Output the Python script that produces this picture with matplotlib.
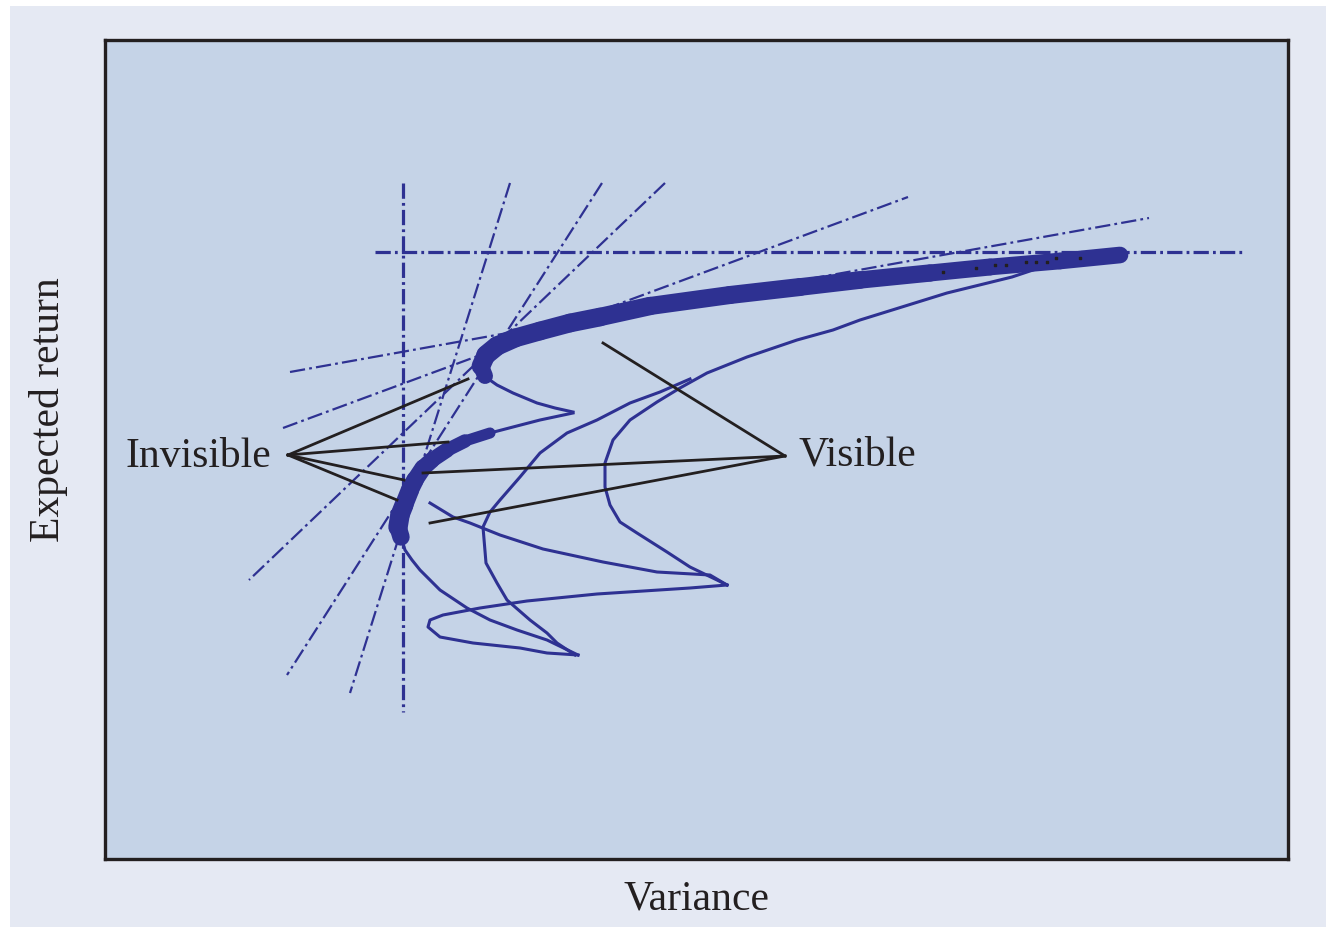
import matplotlib
matplotlib.use("Agg")
import matplotlib.pyplot as plt
from matplotlib.collections import LineCollection
from matplotlib.patches import Rectangle
import numpy as np

BLUE = "#2e3192"
INK = "#231f20"

# top frontier: thick upper branch, thin hook to the first tip
top_thick_x = [485, 481, 486, 497, 515, 540, 570, 600, 650, 730, 800, 860, 930, 990, 1060, 1120]
top_thick_y = [376, 366, 355, 346, 338, 331, 323, 317, 306, 295, 287, 280, 273, 267, 261, 255]
top_thick_w = [10, 13, 14, 14, 13.5, 13.5, 13.5, 13.5, 13, 13, 13, 12.5, 12.5, 12, 12, 12]
top_hook_x = [487, 497, 513, 537, 555, 573]
top_hook_y = [378, 385, 393, 403, 408, 412]

# middle frontier: thin from first tip, thick part, thin tail to second tip
mid_head_x = [573, 540, 513, 490]
mid_head_y = [413, 420, 427, 433]
mid_thick_x = [490, 465, 447, 432, 423, 415, 410, 404, 400, 398, 401]
mid_thick_y = [433, 441, 450, 460, 468, 480, 490, 505, 515, 527, 537]
mid_thick_w = [7, 9, 10.5, 11.5, 12, 12.5, 13, 13.5, 14, 14, 11]
mid_tail_x = [401, 405, 412, 420, 440, 467, 490, 517, 547, 578]
mid_tail_y = [537, 550, 560, 570, 590, 608, 620, 630, 640, 655]

# loop from second tip round to third tip
loop_x = [578, 547, 520, 473, 440, 428, 430, 443, 480, 527, 597, 690, 727]
loop_y = [655, 653, 648, 643, 637, 627, 620, 615, 608, 601, 594, 588, 585]

# return from third tip to the middle frontier
back_x = [727, 710, 657, 603, 543, 500, 470, 453, 430]
back_y = [585, 575, 572, 562, 549, 535, 523, 517, 503]

# visible frontier
vis_x = [727, 717, 690, 667, 637, 620, 610, 605, 605, 613, 630, 657, 680, 707, 747,
         797, 833, 860, 947, 1012, 1045]
vis_y = [585, 580, 567, 552, 533, 522, 505, 487, 463, 440, 420, 402, 388, 373, 357,
         340, 330, 320, 293, 277, 266]

# curve rising from the second tip and joining the visible frontier
rise_x = [575, 557, 547, 530, 507, 497, 486, 483, 490, 500, 520, 540, 567, 597, 630, 660, 690]
rise_y = [655, 643, 633, 620, 600, 583, 563, 527, 512, 500, 477, 453, 433, 420, 403, 392, 379]

# dash-dot lines (start x, start y, end x, end y)
guide_x0 = [403, 375, 510, 602, 665, 290, 283]
guide_y0 = [183, 252, 183, 183, 183, 372, 428]
guide_x1 = [403, 1245, 350, 287, 249, 1149, 908]
guide_y1 = [712, 252, 693, 675, 580, 218, 197]
guide_lw = [2.3, 2.3, 1.6, 1.6, 1.6, 1.6, 1.6]

# pointer lines
inv_pt = (288, 455)
inv_ends_x = [468, 448, 404, 397]
inv_ends_y = [379, 442, 480, 500]
vis_pt = (785, 456)
vis_ends_x = [603, 423, 430]
vis_ends_y = [343, 473, 523]

# dots inside the thick band
dot_x = [943, 976, 995, 1006, 1026, 1036, 1047, 1056, 1080]
dot_y = [272, 268, 265, 265, 262, 262, 262, 258, 258]

W, H = 1326, 927
L, R, T, B = 105, 1288, 40, 859


def thick(ax, xs, ys, ws):
    pts = np.column_stack([xs, ys])
    segs = np.stack([pts[:-1], pts[1:]], axis=1)
    w = (np.array(ws[:-1]) + np.array(ws[1:])) / 2
    lc = LineCollection(segs, linewidths=w, colors=BLUE, capstyle="round",
                        joinstyle="round", zorder=4)
    ax.add_collection(lc)


plt.rcParams["lines.scale_dashes"] = False
fig = plt.figure(figsize=(W / 100, H / 100), dpi=100, facecolor="white")
fig.patches.append(Rectangle((10 / W, 0), 1, 1 - 6 / H, transform=fig.transFigure,
                             facecolor="#e5e9f3", edgecolor="none", zorder=-10))

ax = fig.add_axes([L / W, 1 - B / H, (R - L) / W, (B - T) / H])
ax.set_zorder(1)
ax.set_facecolor("#c5d3e7")
ax.set_xlim(L, R)
ax.set_ylim(B, T)
ax.set_xticks([])
ax.set_yticks([])
for s in ax.spines.values():
    s.set_linewidth(2.4)
    s.set_color(INK)

for x0, y0, x1, y1, lw in zip(guide_x0, guide_y0, guide_x1, guide_y1, guide_lw):
    ax.plot([x0, x1], [y0, y1], color=BLUE, lw=lw,
            dashes=(11, 3, 2, 3), zorder=2)

thin = dict(color=BLUE, lw=2.2, solid_joinstyle="round", zorder=3)
ax.plot(top_hook_x, top_hook_y, **thin)
ax.plot(mid_head_x, mid_head_y, **thin)
ax.plot(mid_tail_x, mid_tail_y, **thin)
ax.plot(loop_x, loop_y, **thin)
ax.plot(back_x, back_y, **thin)
ax.plot(vis_x, vis_y, **thin)
ax.plot(rise_x, rise_y, **thin)
thick(ax, top_thick_x, top_thick_y, top_thick_w)
thick(ax, mid_thick_x, mid_thick_y, mid_thick_w)
ax.scatter(dot_x, dot_y, s=4, color=INK, marker="s", zorder=5)

for ex, ey in zip(inv_ends_x, inv_ends_y):
    ax.plot([inv_pt[0], ex], [inv_pt[1], ey], color=INK, lw=2.0, zorder=6)
for ex, ey in zip(vis_ends_x, vis_ends_y):
    ax.plot([vis_pt[0], ex], [vis_pt[1], ey], color=INK, lw=2.0, zorder=6)

font = dict(family="Liberation Serif", fontsize=30, color=INK)
ax.text(125, 467, "Invisible", ha="left", va="baseline", **font)
ax.text(798, 465, "Visible", ha="left", va="baseline", **font)
fig.text(697 / W, 1 - 910 / H, "Variance", ha="center", va="baseline", **font)
fig.text(49 / W, 1 - 410 / H, "Expected return", ha="center", va="center",
         rotation=90, **font)

fig.savefig("out.png", dpi=100, facecolor=fig.get_facecolor())
